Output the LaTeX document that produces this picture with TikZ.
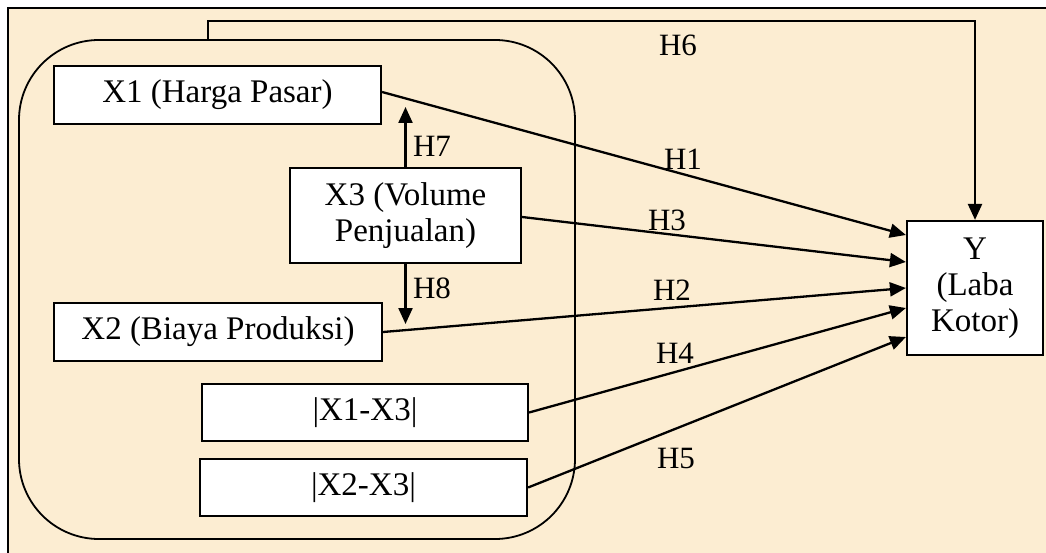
\documentclass[tikz,border=0pt]{standalone}
\usepackage{fontspec}
\setmainfont{Liberation Serif}
\usetikzlibrary{arrows.meta,calc}
\definecolor{parch}{RGB}{252,237,210}
\begin{document}
\begin{tikzpicture}[x=1pt,y=-1pt,
  box/.style={draw=black,fill=white,line width=2.2pt,inner sep=0pt,align=center,font=\fontsize{33}{36}\selectfont},
  conn/.style={line width=2.3pt,-{Triangle[length=16pt,width=14pt]}},
  lab/.style={inner sep=0pt,font=\fontsize{31}{34}\selectfont},
  grpbox/.style={draw=black,line width=1.8pt,rounded corners=80pt,inner sep=0pt}]
\useasboundingbox (0,0) rectangle (1046,553);
\fill[white] (0,0) rectangle (1046,553);
\fill[parch] (8,8) rectangle (1046,553);
\draw[line width=2.5pt] (8,553) -- (8,8) -- (1046,8);

\node[grpbox,minimum width=556pt,minimum height=499pt] (grp) at (297,289.5) {};

\node[box,minimum width=327pt,minimum height=58pt] (X1) at (217.5,95) {X1 (Harga Pasar)};
\node[box,minimum width=231pt,minimum height=95pt] (X3) at (405.5,215.5) {X3 (Volume\\Penjualan)};
\node[box,minimum width=328pt,minimum height=58pt] (X2) at (218,332) {X2 (Biaya Produksi)};
\node[box,minimum width=326pt,minimum height=57pt] (D13) at (365,412.5) {|X1-X3|};
\node[box,minimum width=327pt,minimum height=57pt] (D23) at (363.5,487.5) {|X2-X3|};
\node[box,minimum width=136pt,minimum height=134pt] (Y) at (975,288) {Y\\(Laba\\Kotor)};

\coordinate (h6s) at (208,40);
\coordinate (h6c) at (208,21);
\coordinate (h7e) at (405.5,107);
\coordinate (h8e) at (405.5,324);

\draw[conn] (h6s) -- (h6c) -| (Y.north);
\draw[conn] ([yshift=3pt]X1.east) -- ([yshift=53pt]Y.west);
\draw[conn] ([yshift=-1.5pt]X3.east) -- ([yshift=26pt]Y.west);
\draw[conn] (X2.east) -- (Y.west);
\draw[conn] (D13.east) -- ([yshift=-20pt]Y.west);
\draw[conn] (D23.east) -- ([yshift=-49pt]Y.west);
\draw[conn] (X3.north) -- (h7e);
\draw[conn] (X3.south) -- (h8e);

\node[lab] (L6) at (678,45) {H6};
\node[lab] (L1) at (683,159) {H1};
\node[lab] (L3) at (667,220) {H3};
\node[lab] (L2) at (672,290) {H2};
\node[lab] (L4) at (675,353) {H4};
\node[lab] (L5) at (676,458) {H5};
\node[lab] (L7) at (432,146) {H7};
\node[lab] (L8) at (432,288) {H8};
\end{tikzpicture}
\end{document}
